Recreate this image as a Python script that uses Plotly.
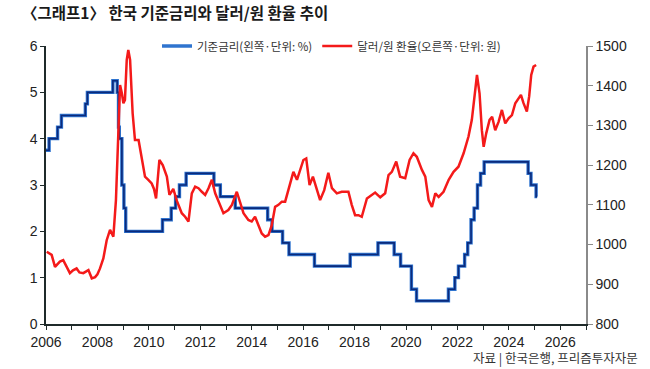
import plotly.graph_objects as go

# Korea base rate (%), change points (decimal year)
rate_year = [2006.0, 2006.12, 2006.45, 2006.6, 2007.53, 2007.61, 2008.6, 2008.77, 2008.82,
             2008.85, 2008.95, 2009.03, 2009.1, 2010.53, 2010.87, 2011.04, 2011.19, 2011.45,
             2012.53, 2012.78, 2013.36, 2014.62, 2014.79, 2015.2, 2015.45, 2016.44, 2017.83,
             2018.91, 2019.54, 2019.79, 2020.21, 2020.41, 2021.65, 2021.9, 2022.04, 2022.28,
             2022.4, 2022.53, 2022.65, 2022.78, 2022.9, 2023.04, 2024.75, 2024.86, 2025.06, 2025.1]
rate_value = [3.75, 4.00, 4.25, 4.50, 4.75, 5.00, 5.25, 5.00, 4.25,
              4.00, 3.00, 2.50, 2.00, 2.25, 2.50, 2.75, 3.00, 3.25,
              3.00, 2.75, 2.50, 2.25, 2.00, 1.75, 1.50, 1.25, 1.50,
              1.75, 1.50, 1.25, 0.75, 0.50, 0.75, 1.00, 1.25, 1.50,
              1.75, 2.25, 2.50, 3.00, 3.25, 3.50, 3.25, 3.00, 2.75, 2.75]

# USD/KRW exchange rate (won)
fx_year = [2006.03, 2006.12, 2006.22, 2006.35, 2006.45, 2006.54, 2006.67, 2006.8, 2006.93,
           2007.05, 2007.19, 2007.3, 2007.45, 2007.55, 2007.65, 2007.78, 2007.91, 2008.0,
           2008.1, 2008.23, 2008.36, 2008.49, 2008.62, 2008.72, 2008.81, 2008.88, 2008.95,
           2009.01, 2009.07, 2009.14, 2009.2, 2009.27, 2009.37, 2009.46, 2009.6, 2009.72,
           2009.85, 2009.98, 2010.11, 2010.2, 2010.28, 2010.41, 2010.54, 2010.7, 2010.8,
           2010.95, 2011.09, 2011.28, 2011.41, 2011.54, 2011.67, 2011.8, 2011.93, 2012.06,
           2012.19, 2012.32, 2012.45, 2012.58, 2012.77, 2012.9, 2013.09, 2013.23, 2013.42,
           2013.55, 2013.68, 2013.87, 2014.0, 2014.13, 2014.26, 2014.39, 2014.52, 2014.65,
           2014.78, 2014.91, 2015.04, 2015.17, 2015.3, 2015.49, 2015.62, 2015.76, 2015.88,
           2016.01, 2016.12, 2016.25, 2016.38, 2016.51, 2016.66, 2016.82, 2016.98, 2017.12,
           2017.31, 2017.5, 2017.76, 2017.89, 2018.02, 2018.15, 2018.28, 2018.48, 2018.67,
           2018.8, 2019.0, 2019.19, 2019.32, 2019.45, 2019.62, 2019.77, 2019.97, 2020.14,
           2020.29, 2020.42, 2020.62, 2020.75, 2020.88, 2021.01, 2021.14, 2021.27, 2021.46,
           2021.66, 2021.85, 2022.04, 2022.24, 2022.43, 2022.56, 2022.69, 2022.76, 2022.86,
           2022.95, 2023.02, 2023.12, 2023.25, 2023.35, 2023.47, 2023.6, 2023.73, 2023.86,
           2023.99, 2024.12, 2024.25, 2024.38, 2024.47, 2024.57, 2024.7, 2024.79, 2024.87,
           2024.96, 2025.06]
fx_value = [982, 978, 974, 944, 952, 957, 961, 945, 928,
            935, 940, 930, 928, 932, 936, 915, 918, 925,
            940, 965, 1011, 1037, 1020, 1112, 1263, 1402, 1381,
            1356, 1364, 1465, 1490, 1465, 1330, 1263, 1263, 1221,
            1171, 1163, 1154, 1140, 1116, 1213, 1200, 1171, 1125,
            1140, 1110, 1079, 1070, 1058, 1129, 1146, 1142, 1133,
            1125, 1142, 1163, 1129, 1100, 1079, 1087, 1100, 1133,
            1108, 1079, 1062, 1058, 1070, 1049, 1028, 1020, 1024,
            1049, 1095, 1100, 1108, 1108, 1150, 1183, 1163, 1188,
            1213, 1217, 1150, 1171, 1146, 1112, 1137, 1181, 1142,
            1129, 1133, 1133, 1100, 1074, 1074, 1070, 1116, 1125,
            1131, 1119, 1129, 1175, 1183, 1209, 1171, 1167, 1213,
            1230, 1221, 1188, 1171, 1112, 1095, 1129, 1120, 1133,
            1163, 1183, 1196, 1230, 1272, 1314, 1381, 1427, 1381,
            1288, 1246, 1280, 1314, 1322, 1288, 1309, 1339, 1305,
            1318, 1326, 1356, 1368, 1377, 1356, 1335, 1373, 1427,
            1448, 1452]

x_tick_vals = list(range(2006, 2028))
x_tick_text = [str(y) if y % 2 == 0 else "" for y in x_tick_vals]

TICK_FONT = dict(family="Liberation Sans Narrow, Liberation Sans, Arial", size=14, color="#222")
KR_FONT = "Noto Sans CJK KR"

W, H = 650, 369
L, R, T, B = 46, 64, 46, 45
PW, PH = W - L - R, H - T - B

fig = go.Figure()
fig.add_trace(go.Scatter(x=rate_year, y=rate_value, mode="lines", line_shape="hv",
                         line=dict(color="#2f74cf", width=3.4), name="기준금리(왼쪽·단위: %)",
                         legendgroup="rate", yaxis="y"))
fig.add_trace(go.Scatter(x=rate_year, y=rate_value, mode="lines", line_shape="hv",
                         line=dict(color="#0b2a7c", width=1.6), showlegend=False,
                         legendgroup="rate", yaxis="y", hoverinfo="skip"))
fig.add_trace(go.Scatter(x=fx_year, y=fx_value, mode="lines",
                         line=dict(color="#f41a1a", width=2.5), name="달러/원 환율(오른쪽·단위: 원)",
                         yaxis="y2"))

fig.update_layout(
    width=W, height=H,
    margin=dict(l=L, r=R, t=T, b=B),
    paper_bgcolor="white", plot_bgcolor="white",
    showlegend=True,
    legend=dict(orientation="h", x=(157 - L) / PW, xanchor="left", y=1.0, yanchor="middle",
                font=dict(family=KR_FONT, size=11.5, color="#333"),
                bgcolor="rgba(0,0,0,0)", itemwidth=30),
    xaxis=dict(range=[2006, 2027], tickvals=x_tick_vals, ticktext=x_tick_text,
               showgrid=False, zeroline=False, showline=True, linecolor="#1f2a2a", linewidth=1.5,
               ticks="outside", ticklen=4, tickcolor="#1f2a2a", tickfont=TICK_FONT),
    yaxis=dict(range=[0, 6], dtick=1, showgrid=False, zeroline=False, showline=True,
               linecolor="#1f2a2a", linewidth=1.5, ticks="outside", ticklen=4,
               tickcolor="#1f2a2a", tickfont=TICK_FONT),
    yaxis2=dict(range=[800, 1500], dtick=100, overlaying="y", side="right", showgrid=False,
                zeroline=False, showline=True, linecolor="#8a8a8a", linewidth=1.5,
                ticks="outside", ticklen=5, tickcolor="#8a8a8a", tickfont=TICK_FONT),
    annotations=[
        dict(text="<b>〈그래프1〉 한국 기준금리와 달러/원 환율 추이</b>", xref="paper", yref="paper",
             x=(20 - L) / PW, xanchor="left", y=1 + (T - 12) / PH, yanchor="middle",
             showarrow=False, font=dict(family=KR_FONT, size=15.5, color="#1a1a1a")),
        dict(text="자료 | 한국은행, 프리즘투자자문", xref="paper", yref="paper",
             x=1 + (640 - (W - R)) / PW, xanchor="right", y=-(357 - (H - B)) / PH, yanchor="middle",
             showarrow=False, font=dict(family=KR_FONT, size=12.5, color="#333")),
    ],
)

fig.write_html("out.html", config={"displayModeBar": False},
               post_script="document.body.style.margin='0';")
